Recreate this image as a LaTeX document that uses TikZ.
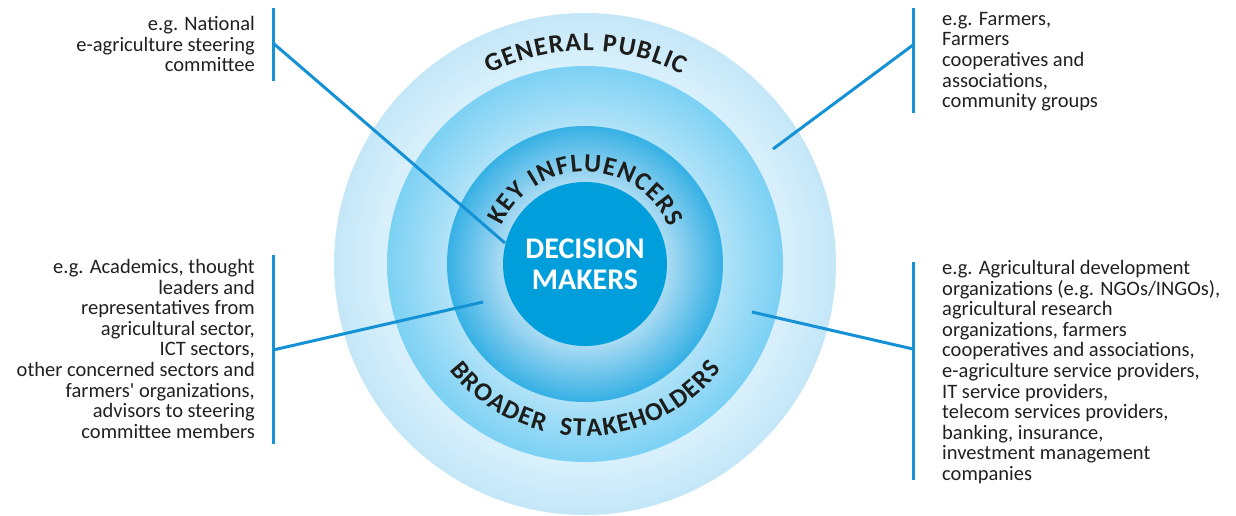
\documentclass[tikz,border=0pt]{standalone}
\usepackage{fontspec}
\setmainfont{Carlito}[Ligatures=TeXOff]
\usetikzlibrary{decorations.text,calc}
\definecolor{linecol}{HTML}{1592D5}
\definecolor{txtcol}{HTML}{231F20}
\definecolor{labcol}{HTML}{1D1D1B}
\definecolor{coreblue}{HTML}{009EDB}
\definecolor{ringAo}{HTML}{C4E7F8}
\definecolor{ringAi}{HTML}{DAF1FC}
\definecolor{ringBo}{HTML}{7DD1F4}
\definecolor{ringBi}{HTML}{B2E3F8}
\definecolor{ringCo}{HTML}{38B1E5}
\definecolor{ringCi}{HTML}{ADDCF3}
\newcommand\ringfill[4]{%
  \foreach \i in {0,...,30}{%
    \pgfmathsetmacro\rr{#1-(#1-#2)*\i/30}%
    \pgfmathtruncatemacro\pp{100*\i/30}%
    \fill[#4!\pp!#3] (C) circle[radius=\rr];
  }}
\newcommand\labfont{\fontsize{26}{26}\selectfont\bfseries\kern1.3pt}
\newcommand\dmfont{\fontsize{30}{31}\selectfont\bfseries}
\newcommand\bodyfont{\fontsize{20.5}{20.6}\selectfont}
\tikzset{
  conn/.style={draw=linecol, line width=3pt},
  body/.style={font=\bodyfont, text=txtcol, inner sep=0pt},
  arclabel/.style={decorate, decoration={text along path, text align=center,
     text color=labcol}},
}
\begin{document}
\begin{tikzpicture}[x=1pt,y=1pt]
\useasboundingbox (0,0) rectangle (1236,-515);
\coordinate (C) at (585,-264);
% rings
\ringfill{251}{198}{ringAo}{ringAi}
\ringfill{198}{138}{ringBo}{ringBi}
\ringfill{138}{82}{ringCo}{ringCi}
\node[circle, inner sep=0pt, minimum size=502pt] (gp) at (C) {};
\node[circle, inner sep=0pt, minimum size=396pt] (bs) at (C) {};
\node[circle, inner sep=0pt, minimum size=276pt] (ki) at (C) {};
\node[circle, inner sep=0pt, minimum size=164pt, fill=coreblue, text=white,
      font=\dmfont, align=center] (dm) at (C) {DECISION\\MAKERS};
% curved labels
\path[arclabel, decoration={text={|\labfont|GENERAL PUBLIC}}]
  ($(C)+(180:213)$) arc[start angle=180, end angle=0, radius=213];
\path[arclabel, decoration={text={|\labfont|KEY INFLUENCERS}}]
  ($(C)+(200:92)$) arc[start angle=200, end angle=-20, radius=92];
\path[arclabel, decoration={text={|\labfont|BROADER{\kern13pt}STAKEHOLDERS}}]
  ($(C)+(160:172)$) arc[start angle=160, end angle=380, radius=172];
% connectors
\coordinate (tlA) at (273,-8);   \coordinate (tlB) at (273,-81);
\coordinate (tlM) at (273,-43);  \coordinate (tlE) at (505,-243);
\coordinate (trA) at (913,-8);   \coordinate (trB) at (913,-113);
\coordinate (trM) at (913,-45);  \coordinate (trE) at (773,-149);
\coordinate (blA) at (273,-255); \coordinate (blB) at (273,-444);
\coordinate (blM) at (273,-350); \coordinate (blE) at (483,-302);
\coordinate (brA) at (913,-262); \coordinate (brB) at (913,-480);
\coordinate (brM) at (913,-349); \coordinate (brE) at (752,-312);
\draw[conn] (tlA) -- (tlB); \draw[conn] (tlM) -- (tlE);
\draw[conn] (trA) -- (trB); \draw[conn] (trM) -- (trE);
\draw[conn] (blA) -- (blB); \draw[conn] (blM) -- (blE);
\draw[conn] (brA) -- (brB); \draw[conn] (brM) -- (brE);
% text blocks
\node[body, anchor=north east, align=right] (tlt) at (255,-16)
  {e.g. National\\e-agriculture steering\\committee};
\node[body, anchor=north west, align=left] (trt) at (942,-12)
  {e.g. Farmers,\\Farmers\\cooperatives and\\associations,\\community groups};
\node[body, anchor=north east, align=right] (blt) at (255,-259)
  {e.g. Academics, thought\\leaders and\\representatives from\\agricultural sector,\\ICT sectors,\\other concerned sectors and\\farmers' organizations,\\advisors to steering\\committee members};
\node[body, anchor=north west, align=left] (brt) at (942,-260)
  {e.g. Agricultural development\\organizations (e.g. NGOs/INGOs),\\agricultural research\\organizations, farmers\\cooperatives and associations,\\e-agriculture service providers,\\IT service providers,\\telecom services providers,\\banking, insurance,\\investment management\\companies};
\end{tikzpicture}
\end{document}
